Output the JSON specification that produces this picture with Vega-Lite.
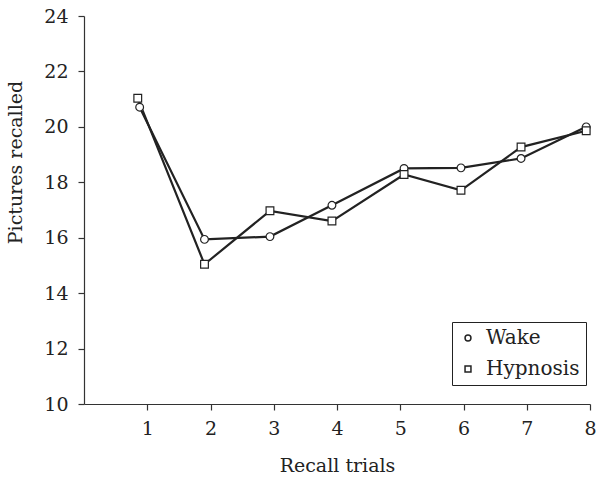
{
  "$schema": "https://vega.github.io/schema/vega-lite/v6.json",
  "width": 506,
  "height": 388,
  "autosize": {"type": "none"},
  "padding": {"left": 84, "top": 16, "right": 6, "bottom": 77},
  "background": "white",
  "config": {
    "view": {"stroke": null},
    "font": "DejaVu Serif",
    "axis": {
      "grid": false,
      "domainColor": "#333",
      "domainWidth": 1.2,
      "tickColor": "#333",
      "tickWidth": 1.2,
      "tickSize": 6,
      "labelFont": "DejaVu Serif",
      "labelFontSize": 19,
      "labelColor": "#222",
      "titleFont": "DejaVu Serif",
      "titleFontSize": 19,
      "titleFontWeight": "normal",
      "titleColor": "#222"
    }
  },
  "data": {
    "values": [
      {"trial": 0.88, "recalled": 20.71, "condition": "Wake"},
      {"trial": 1.905, "recalled": 15.94, "condition": "Wake"},
      {"trial": 2.94, "recalled": 16.04, "condition": "Wake"},
      {"trial": 3.92, "recalled": 17.17, "condition": "Wake"},
      {"trial": 5.06, "recalled": 18.5, "condition": "Wake"},
      {"trial": 5.96, "recalled": 18.52, "condition": "Wake"},
      {"trial": 6.91, "recalled": 18.86, "condition": "Wake"},
      {"trial": 7.94, "recalled": 20.0, "condition": "Wake"},
      {"trial": 0.85, "recalled": 21.03, "condition": "Hypnosis"},
      {"trial": 1.905, "recalled": 15.04, "condition": "Hypnosis"},
      {"trial": 2.94, "recalled": 16.97, "condition": "Hypnosis"},
      {"trial": 3.92, "recalled": 16.6, "condition": "Hypnosis"},
      {"trial": 5.06, "recalled": 18.28, "condition": "Hypnosis"},
      {"trial": 5.96, "recalled": 17.71, "condition": "Hypnosis"},
      {"trial": 6.91, "recalled": 19.27, "condition": "Hypnosis"},
      {"trial": 7.94, "recalled": 19.86, "condition": "Hypnosis"}
    ]
  },
  "encoding": {
    "x": {
      "field": "trial",
      "type": "quantitative",
      "scale": {"domain": [0, 8], "nice": false, "zero": false},
      "axis": {
        "title": "Recall trials",
        "values": [1, 2, 3, 4, 5, 6, 7, 8],
        "labelPadding": 9,
        "titlePadding": 18,
        "labelFlush": false
      }
    },
    "y": {
      "field": "recalled",
      "type": "quantitative",
      "scale": {"domain": [10, 24], "nice": false, "zero": false},
      "axis": {
        "title": "Pictures recalled",
        "values": [10, 12, 14, 16, 18, 20, 22, 24],
        "labelPadding": 10,
        "labelFlush": false,
        "titleX": -63,
        "titleY": 146,
        "titleAngle": -90,
        "titleAlign": "center",
        "titleBaseline": "alphabetic"
      }
    }
  },
  "layer": [
    {
      "mark": {"type": "line", "color": "#222", "strokeWidth": 2.2},
      "encoding": {"detail": {"field": "condition"}}
    },
    {
      "mark": {"type": "point", "filled": true, "fill": "white", "stroke": "#222", "strokeWidth": 1.2, "size": 60, "opacity": 1},
      "encoding": {
        "shape": {
          "field": "condition",
          "type": "nominal",
          "scale": {"domain": ["Wake", "Hypnosis"], "range": ["circle", "square"]},
          "legend": {
            "title": null,
            "orient": "none",
            "legendX": 368,
            "legendY": 306,
            "strokeColor": "#222",
            "fillColor": "white",
            "padding": 6,
            "rowPadding": 11,
            "symbolSize": 35,
            "labelFont": "DejaVu Serif",
            "labelFontSize": 20,
            "labelColor": "#222",
            "labelOffset": 8,
            "encode": {
              "symbols": {
                "update": {
                  "fill": {"value": "white"},
                  "stroke": {"value": "#222"},
                  "strokeWidth": {"value": 1},
                  "opacity": {"value": 1}
                }
              }
            }
          }
        }
      }
    }
  ]
}
